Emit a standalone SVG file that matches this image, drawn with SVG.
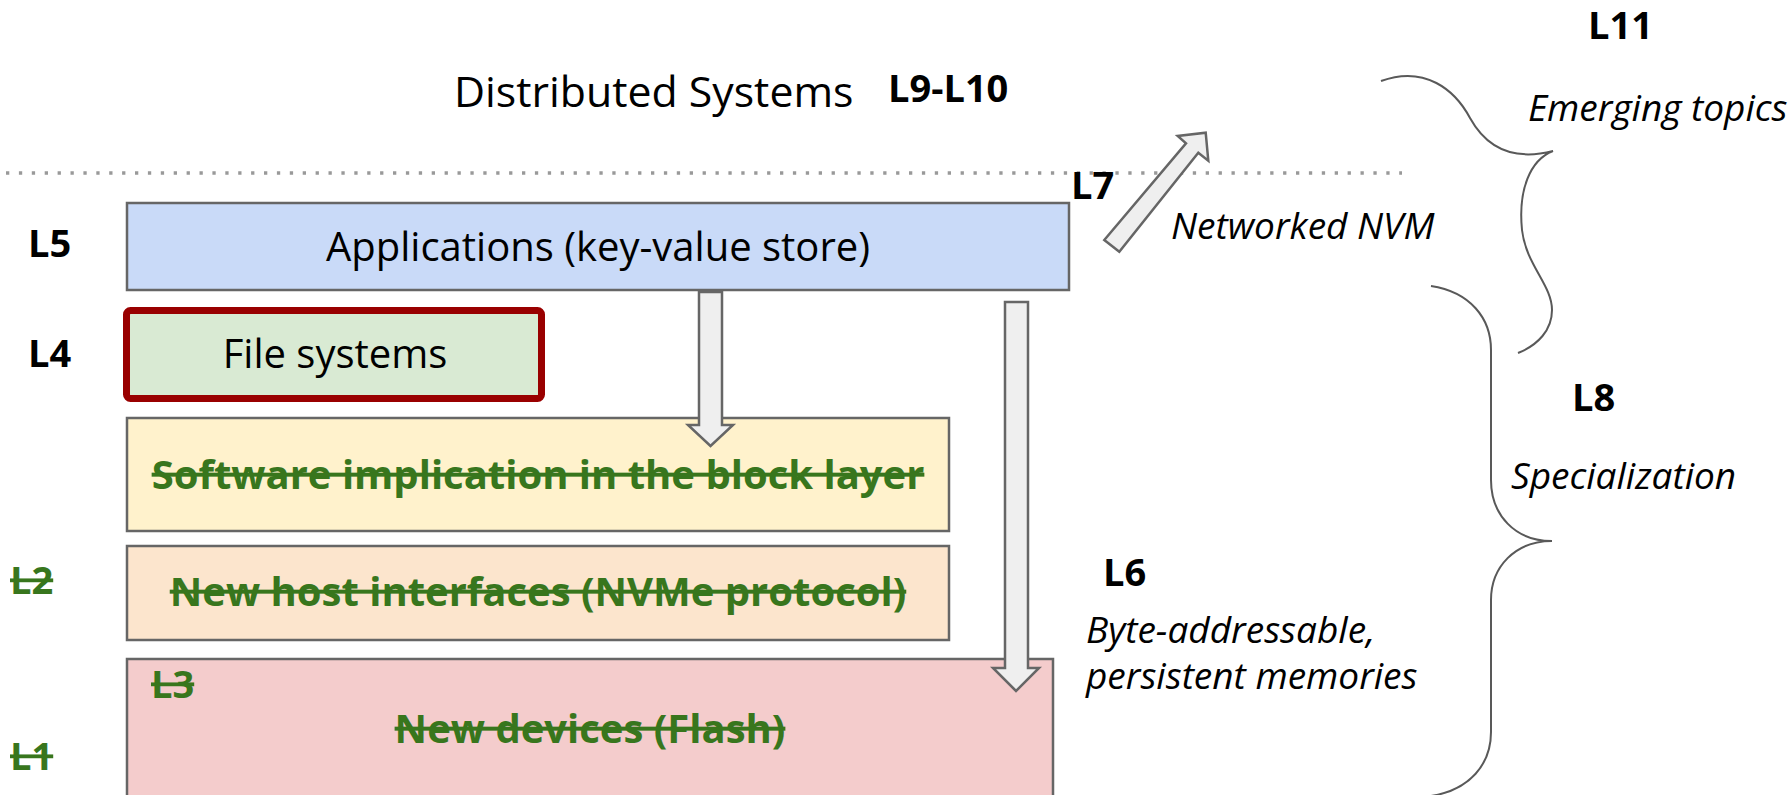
<svg xmlns="http://www.w3.org/2000/svg" width="1792" height="795" viewBox="0 0 1792 795">
<defs>
<style>
.box{stroke:#666666;stroke-width:2.5}
.reg{font-family:"Open Sans","Liberation Sans",sans-serif;font-size:40px;fill:#000}
.title{font-family:"Open Sans","Liberation Sans",sans-serif;font-size:42.8px;fill:#000}
.lbl{font-family:"Open Sans","Liberation Sans",sans-serif;font-size:38px;font-weight:bold;fill:#000}
.ital{font-family:"Open Sans","Liberation Sans",sans-serif;font-size:37px;font-style:italic;fill:#000}
.strike{font-family:"Open Sans","Liberation Sans",sans-serif;font-size:40px;font-weight:bold;fill:#38761d;text-decoration:line-through}
.slbl{font-family:"Open Sans","Liberation Sans",sans-serif;font-size:38px;font-weight:bold;fill:#38761d;text-decoration:line-through}
.arrow{fill:#efefef;stroke:#666666;stroke-width:2.5;stroke-linejoin:miter}
.brace{fill:none;stroke:#595959;stroke-width:2}
</style>
</defs>
<rect width="1792" height="795" fill="#ffffff"/>

<line x1="6" y1="173" x2="1402" y2="173" stroke="#999999" stroke-width="3.3" stroke-dasharray="3.3 9.6"/>

<text class="title" x="454" y="107">Distributed Systems</text>
<text class="lbl" x="888" y="102">L9-L10</text>
<text class="lbl" x="1588" y="39">L11</text>
<text class="lbl" x="1071" y="199">L7</text>

<g id="applications">
<rect class="box" x="127" y="203" width="942" height="87" fill="#c9daf8"/>
<text class="reg" x="598" y="261" text-anchor="middle">Applications (key-value store)</text>
</g>
<text class="lbl" x="28" y="257">L5</text>

<g id="filesystems">
<rect x="126.5" y="310.5" width="415" height="88" rx="4" fill="#d9ead3" stroke="#990000" stroke-width="7"/>
<text class="reg" x="335" y="368" text-anchor="middle">File systems</text>
</g>
<text class="lbl" x="28" y="367">L4</text>

<g id="blocklayer">
<rect class="box" x="127" y="418" width="822" height="113" fill="#fff2cc"/>
<text class="strike" x="538" y="489" text-anchor="middle">Software implication in the block layer</text>
</g>

<g id="hostinterfaces">
<rect class="box" x="127" y="546" width="822" height="94" fill="#fce5cd"/>
<text class="strike" x="538" y="606" text-anchor="middle">New host interfaces (NVMe protocol)</text>
</g>
<text class="slbl" x="10" y="594">L2</text>

<g id="devices">
<rect class="box" x="127" y="659" width="926" height="150" fill="#f4cccc"/>
<text class="slbl" x="151" y="698">L3</text>
<text class="strike" x="590" y="743" text-anchor="middle">New devices (Flash)</text>
</g>
<text class="slbl" x="10" y="770">L1</text>

<g id="connectors">
<polygon class="arrow" points="699,292 722,292 722,425 733,425 710.5,446 688,425 699,425"/>
<polygon class="arrow" points="1005,302 1028,302 1028,668 1039,668 1016,691 993,668 1005,668"/>
<polygon class="arrow" points="1104.3,240 1186,143.3 1177.7,136 1205.7,132.7 1208.3,160.7 1198.3,152.7 1119.3,251.7"/>
<path class="brace" d="M1381,81 C1425,65 1455,90 1470,118 C1485,145 1510,162 1553,151 C1530,160 1518,190 1522,230 C1526,265 1552,285 1552,310 C1552,330 1538,345 1518,353"/>
<path class="brace" d="M1431,286 C1470,292 1491,318 1491,350 L1491,480 C1491,515 1515,541 1552,541 C1515,541 1491,567 1491,600 L1491,732 C1491,764 1470,790 1431,796"/>
</g>

<text class="ital" x="1171" y="239">Networked NVM</text>
<text class="ital" x="1528" y="121">Emerging topics</text>
<text class="lbl" x="1572" y="411">L8</text>
<text class="ital" x="1511" y="489">Specialization</text>
<text class="lbl" x="1103" y="586">L6</text>
<text class="ital" x="1086" y="643">Byte-addressable,</text>
<text class="ital" x="1086" y="689">persistent memories</text>
</svg>
